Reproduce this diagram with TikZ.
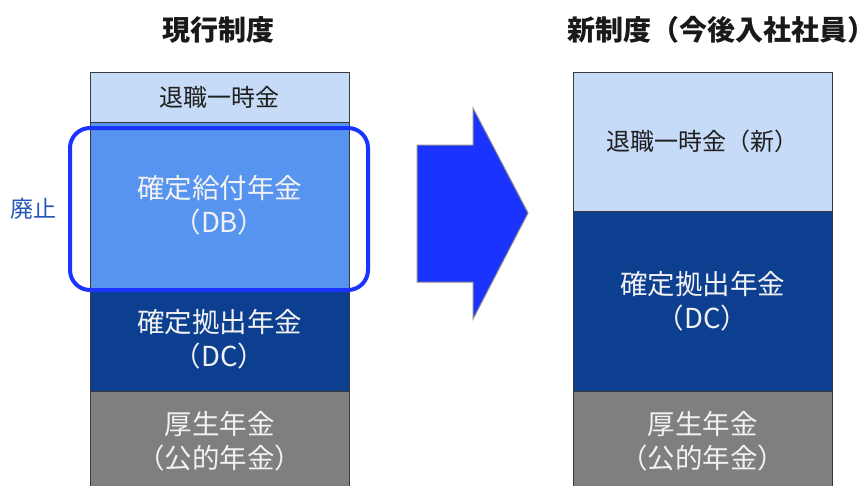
\documentclass[tikz,border=0pt]{standalone}
\usepackage{fontspec}
\setmainfont{Noto Sans CJK JP}
\usetikzlibrary{positioning}
\definecolor{lumpblue}{HTML}{C6DBF7}
\definecolor{dbblue}{HTML}{5794EF}
\definecolor{dcblue}{HTML}{0D3F91}
\definecolor{pubgray}{HTML}{7F7F7F}
\definecolor{cellline}{HTML}{3A3A3A}
\definecolor{vivid}{HTML}{1A33FF}
\definecolor{droptext}{HTML}{2457B5}
\tikzstyle{title} = [font=\fontsize{28}{32}\selectfont\bfseries, text=black!90, inner sep=0pt]
\tikzstyle{cell} = [rectangle, draw=cellline, line width=1pt, minimum width=259pt, text centered, align=center, inner sep=0pt, outer sep=0pt, text=white!95!black, font=\fontsize{27.5}{34}\selectfont]
\tikzstyle{lumpcell} = [cell, fill=lumpblue, text=black!88, font=\fontsize{24}{30}\selectfont]
\tikzstyle{dbcell} = [cell, fill=dbblue]
\tikzstyle{dccell} = [cell, fill=dcblue]
\tikzstyle{pubcell} = [cell, fill=pubgray]
\tikzstyle{dropframe} = [rectangle, draw=vivid, line width=4pt, rounded corners=20pt]
\tikzstyle{blockarrow} = [fill=vivid, draw=black!45, line width=1pt]

\begin{document}
\begin{tikzpicture}[x=1pt, y=-1pt]
    \useasboundingbox (0,0) rectangle (859,485);

    % current scheme
    \node[title](oldtitle) at (218,30) {現行制度};
    \node[lumpcell, minimum height=50pt, anchor=north](oldlump) at (219.5,72) {退職一時金};
    \node[dbcell, minimum height=166pt, below=0pt of oldlump](olddb) {確定給付年金\\（DB）};
    \node[dccell, minimum height=103pt, below=0pt of olddb](olddc) {確定拠出年金\\（DC）};
    \node[pubcell, minimum height=100pt, below=0pt of olddc](oldpub) {厚生年金\\（公的年金）};

    \node[dropframe, minimum width=298pt, minimum height=162pt](dropped) at (219,209) {};
    \node[text=droptext, font=\fontsize{23}{28}\selectfont, inner sep=1pt, left=10pt of dropped](droplabel) {廃止};

    % arrow
    \path[blockarrow] (417,145) -- (473,145) -- (473,108) -- (528,213)
        -- (473,319) -- (473,282) -- (417,282) -- cycle;

    % new scheme
    \node[title](newtitle) at (721,30) {新制度（今後入社社員）};
    \node[lumpcell, minimum height=139pt, anchor=north](newlump) at (702.5,72) {退職一時金（新）};
    \node[dccell, minimum height=180pt, below=0pt of newlump](newdc) {確定拠出年金\\（DC）};
    \node[pubcell, minimum height=100pt, below=0pt of newdc](newpub) {厚生年金\\（公的年金）};
\end{tikzpicture}
\end{document}
